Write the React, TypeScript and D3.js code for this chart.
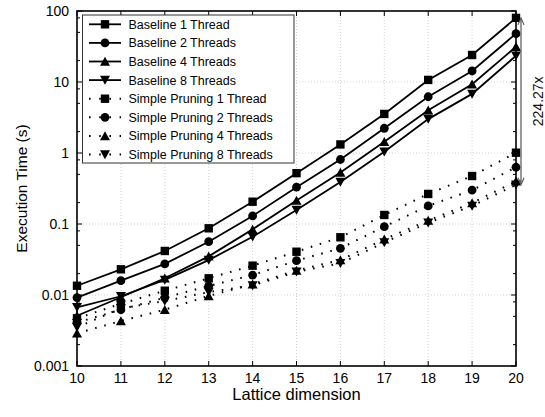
import React from "react";
import * as d3 from "d3";

const dims = [10, 11, 12, 13, 14, 15, 16, 17, 18, 19, 20];
const yTickValues = [0.001, 0.01, 0.1, 1, 10, 100];
const yTickLabels = ["0.001", "0.01", "0.1", "1", "10", "100"];

const baseline1 = [0.0135, 0.023, 0.0417, 0.087, 0.206, 0.52, 1.32, 3.55, 10.7, 24, 80];
const baseline2 = [0.0092, 0.0159, 0.0274, 0.0563, 0.13, 0.33, 0.81, 2.23, 6.2, 14.3, 48];
const baseline4 = [0.0051, 0.0093, 0.0172, 0.035, 0.084, 0.215, 0.53, 1.44, 4.0, 9.3, 31.4];
const baseline8 = [0.0067, 0.0096, 0.0163, 0.031, 0.066, 0.157, 0.39, 1.04, 3.0, 6.8, 23.4];
const sp1 = [0.0047, 0.0075, 0.0115, 0.0172, 0.0259, 0.0407, 0.065, 0.134, 0.265, 0.474, 1.01];
const sp2 = [0.0041, 0.0062, 0.0092, 0.0134, 0.0191, 0.0304, 0.0455, 0.0917, 0.18, 0.3, 0.63];
const sp4 = [0.0029, 0.0043, 0.0062, 0.0097, 0.0142, 0.0222, 0.031, 0.061, 0.112, 0.198, 0.4];
const sp8 = [0.0035, 0.0065, 0.0082, 0.011, 0.0136, 0.0212, 0.028, 0.055, 0.104, 0.18, 0.357];

const seriesNames = [
  "Baseline 1 Thread",
  "Baseline 2 Threads",
  "Baseline 4 Threads",
  "Baseline 8 Threads",
  "Simple Pruning 1 Thread",
  "Simple Pruning 2 Threads",
  "Simple Pruning 4 Threads",
  "Simple Pruning 8 Threads",
];
const seriesValues = [baseline1, baseline2, baseline4, baseline8, sp1, sp2, sp4, sp8];
const seriesMarkers = ["square", "circle", "up", "down", "square", "circle", "up", "down"];
const seriesDotted = [false, false, false, false, true, true, true, true];
const speedupLabel = "224.27x";

const W = 545;
const H = 417;
const M = { left: 77, right: 516, top: 11, bottom: 366 };
const FONT = "'Liberation Sans', Arial, Helvetica, sans-serif";

function markerPath(type: string, cx: number, cy: number): string {
  if (type === "square") {
    const s = 4.2;
    return `M${cx - s},${cy - s}H${cx + s}V${cy + s}H${cx - s}Z`;
  }
  if (type === "circle") {
    const r = 4.4;
    return `M${cx - r},${cy}A${r},${r} 0 1 0 ${cx + r},${cy}A${r},${r} 0 1 0 ${cx - r},${cy}Z`;
  }
  if (type === "up") {
    const h = 8.5, w = 5;
    return `M${cx},${cy - h / 2 - 0.5}L${cx + w},${cy + h / 2}L${cx - w},${cy + h / 2}Z`;
  }
  const h = 8.5, w = 5;
  return `M${cx},${cy + h / 2 + 0.5}L${cx + w},${cy - h / 2}L${cx - w},${cy - h / 2}Z`;
}

export default function App() {
  const x = d3.scaleLinear().domain([10, 20]).range([M.left, M.right]);
  const y = d3.scaleLog().domain([0.001, 100]).range([M.bottom, M.top]);

  const line = d3
    .line<number>()
    .x((_, i) => x(dims[i]))
    .y((d) => y(d));

  const minorTicks: number[] = [];
  for (let e = -3; e < 2; e++) {
    for (const m of [2, 5, 8]) minorTicks.push(m * Math.pow(10, e));
  }

  const top20 = baseline1[baseline1.length - 1];
  const bot20 = sp8[sp8.length - 1];
  const arrowX = M.right + 5;
  const aTop = y(top20);
  const aBot = y(bot20);

  const legX = 82.5, legY = 15, legW = 211.5, legH = 148;
  const rowH = 18.6;

  return (
    <svg
      width={W}
      height={H}
      style={{ position: "absolute", left: 0, top: 0, background: "#fff" }}
      fontFamily={FONT}
    >
      <rect x={0} y={0} width={W} height={H} fill="#fff" />
      {/* grid */}
      {dims.slice(1, -1).map((d) => (
        <line key={"gx" + d} x1={x(d)} x2={x(d)} y1={M.top} y2={M.bottom} stroke="#c8c8c8" strokeWidth={0.8} strokeDasharray="1 2" />
      ))}
      {yTickValues.slice(1, -1).map((v) => (
        <line key={"gy" + v} x1={M.left} x2={M.right} y1={y(v)} y2={y(v)} stroke="#c8c8c8" strokeWidth={0.8} strokeDasharray="1 2" />
      ))}
      {/* ticks */}
      {dims.map((d) => (
        <g key={"tx" + d}>
          <line x1={x(d)} x2={x(d)} y1={M.bottom} y2={M.bottom - 5} stroke="#000" strokeWidth={1} />
          <line x1={x(d)} x2={x(d)} y1={M.top} y2={M.top + 5} stroke="#000" strokeWidth={1} />
          <text x={x(d)} y={383} textAnchor="middle" fontSize={14}>{d}</text>
        </g>
      ))}
      {yTickValues.map((v, i) => (
        <g key={"ty" + v}>
          <line x1={M.left} x2={M.left + 5} y1={y(v)} y2={y(v)} stroke="#000" strokeWidth={1} />
          <line x1={M.right} x2={M.right - 5} y1={y(v)} y2={y(v)} stroke="#000" strokeWidth={1} />
          <text x={69} y={y(v)} dy="0.35em" textAnchor="end" fontSize={14}>{yTickLabels[i]}</text>
        </g>
      ))}
      {minorTicks.map((v) => (
        <g key={"my" + v}>
          <line x1={M.left} x2={M.left + 3} y1={y(v)} y2={y(v)} stroke="#000" strokeWidth={1} />
          <line x1={M.right} x2={M.right - 3} y1={y(v)} y2={y(v)} stroke="#000" strokeWidth={1} />
        </g>
      ))}
      {/* series */}
      {seriesValues.map((vals, si) => (
        <g key={"s" + si}>
          <path
            d={line(vals) || ""}
            fill="none"
            stroke="#000"
            strokeWidth={seriesDotted[si] ? 2 : 1.8}
            strokeDasharray={seriesDotted[si] ? "1.6 7.8" : undefined}
          />
          {vals.map((v, i) => (
            <path key={i} d={markerPath(seriesMarkers[si], x(dims[i]), y(v))} fill="#000" />
          ))}
        </g>
      ))}
      {/* frame */}
      <rect x={M.left} y={M.top} width={M.right - M.left} height={M.bottom - M.top} fill="none" stroke="#000" strokeWidth={1.6} />
      {/* legend */}
      <rect x={legX} y={legY} width={legW} height={legH} fill="#fff" stroke="#333" strokeWidth={1} />
      {seriesNames.map((name, i) => {
        const cy = legY + 9.3 + i * rowH;
        return (
          <g key={"l" + i}>
            <line
              x1={89}
              x2={121}
              y1={cy}
              y2={cy}
              stroke="#000"
              strokeWidth={seriesDotted[i] ? 2 : 1.8}
              strokeDasharray={seriesDotted[i] ? "1.6 8.6" : undefined}
            />
            <path d={markerPath(seriesMarkers[i], 105, cy)} fill="#000" />
            <text x={128.5} y={cy} dy="0.36em" fontSize={12.5}>{name}</text>
          </g>
        );
      })}
      {/* annotation arrow */}
      <line x1={arrowX} x2={arrowX} y1={aTop + 1} y2={aBot - 1} stroke="#555" strokeWidth={1.2} />
      <path d={`M${arrowX - 3},${aTop + 7}L${arrowX},${aTop}L${arrowX + 3},${aTop + 7}`} fill="none" stroke="#555" strokeWidth={1.1} />
      <path d={`M${arrowX - 3},${aBot - 7}L${arrowX},${aBot}L${arrowX + 3},${aBot - 7}`} fill="none" stroke="#555" strokeWidth={1.1} />
      <text
        transform={`translate(543,${(aTop + aBot) / 2}) rotate(-90)`}
        textAnchor="middle"
        fontSize={14}
        fill="#111"
      >
        {speedupLabel}
      </text>
      {/* axis labels */}
      <text x={(M.left + M.right) / 2} y={400} textAnchor="middle" fontSize={16.5}>Lattice dimension</text>
      <text transform={`translate(27,${(M.top + M.bottom) / 2}) rotate(-90)`} textAnchor="middle" fontSize={15.5}>
        Execution Time (s)
      </text>
    </svg>
  );
}
